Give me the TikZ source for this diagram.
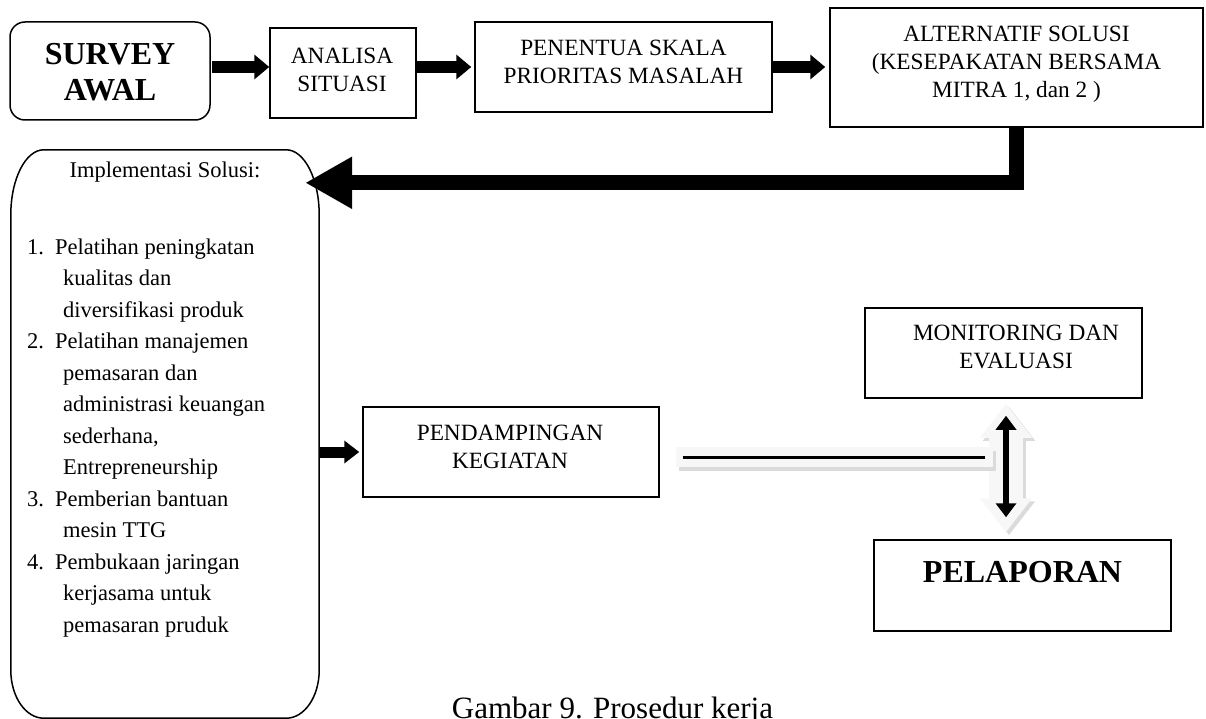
\documentclass[tikz,border=0pt]{standalone}
\usepackage{fontspec}
\setmainfont{Liberation Serif}
\usetikzlibrary{arrows.meta,calc}

\begin{document}
\begin{tikzpicture}[x=1pt,y=-1pt,
  box/.style={draw=black, line width=1.5pt, inner sep=0pt},
  txt/.style={inner sep=0pt, align=center, font=\fontsize{23.3}{28}\selectfont},
  bold/.style={inner sep=0pt, align=center, font=\fontsize{32}{36}\selectfont\bfseries},
  blk/.style={line width=12pt, -{Triangle[length=15pt,width=24pt]}},
  blksmall/.style={line width=11pt, -{Triangle[length=15pt,width=22pt]}},
  big/.style={line width=15pt, line join=miter, -{Triangle[length=47pt,width=49pt]}},
  graybar/.style={line width=20pt, draw=gray!6},
  grayshadow/.style={line width=20pt, draw=gray!28},
  grayarrow/.style={line width=34pt, draw=gray!6, {Triangle[length=34pt,width=50pt]}-{Triangle[length=34pt,width=50pt]}},
  grayarrowshadow/.style={line width=34pt, draw=gray!28, {Triangle[length=34pt,width=50pt]}-{Triangle[length=34pt,width=50pt]}},
  blackdouble/.style={line width=6pt, {Triangle[length=14pt,width=20pt]}-{Triangle[length=14pt,width=20pt]}},
]
\useasboundingbox (0,0) rectangle (1206,719);

% boxes
\node[box, rounded corners=15pt, minimum width=200pt, minimum height=98pt] (survey) at (110,71) {};
\node[box, minimum width=146pt, minimum height=90pt] (analisa) at (343,73) {};
\node[box, minimum width=297pt, minimum height=90pt] (penentu) at (623.5,67) {};
\node[box, minimum width=373pt, minimum height=119pt] (alt) at (1016.5,67.5) {};
\node[box, minimum width=277pt, minimum height=90pt] (mon) at (1003.5,353) {};
\node[box, minimum width=296pt, minimum height=90pt] (pend) at (511,452) {};
\node[box, minimum width=297pt, minimum height=91pt] (pel) at (1022.5,585.5) {};
\node[inner sep=0pt, minimum width=308pt, minimum height=568pt] (impl) at (165,434) {};

% implementasi outline with elliptic corners
\draw[line width=1.5pt]
  ($(impl.north west)+(0,65)$) .. controls ($(impl.north west)+(0,29.1)$) and ($(impl.north west)+(14.8,0)$) .. ($(impl.north west)+(33,0)$)
  -- ($(impl.north east)+(-33,0)$) .. controls ($(impl.north east)+(-14.8,0)$) and ($(impl.north east)+(0,29.1)$) .. ($(impl.north east)+(0,65)$)
  -- ($(impl.south east)+(0,-48)$) .. controls ($(impl.south east)+(0,-21.5)$) and ($(impl.south east)+(-14.8,0)$) .. ($(impl.south east)+(-33,0)$)
  -- ($(impl.south west)+(33,0)$) .. controls ($(impl.south west)+(14.8,0)$) and ($(impl.south west)+(0,-21.5)$) .. ($(impl.south west)+(0,-48)$)
  -- cycle;

% texts
\node[bold] (surveyT) at (110,72.4) {SURVEY\\AWAL};
\node[txt] (analisaT) at (342,70) {ANALISA\\SITUASI};
\node[txt] (penentuT) at (623.5,62) {PENENTUA SKALA\\PRIORITAS MASALAH};
\node[txt] (altT) at (1016.5,64.5) {ALTERNATIF SOLUSI\\(KESEPAKATAN BERSAMA\\MITRA 1, dan 2 )};
\node[txt] (monT) at (1016,347) {MONITORING DAN\\EVALUASI};
\node[txt] (pendT) at (510,446.5) {PENDAMPINGAN\\KEGIATAN};
\node[bold, anchor=base] (pelT) at (1022.5,582) {PELAPORAN};
\node[inner sep=0pt, anchor=base, font=\fontsize{22.5}{31.5}\selectfont] (implT) at (165,178) {Implementasi Solusi:};
\node[anchor=west, inner sep=0pt, align=left, font=\fontsize{22.5}{31.5}\selectfont] (items) at (27,437.8) {%
\makebox[28pt][l]{1.}Pelatihan peningkatan\\
\hspace*{36pt}kualitas dan\\
\hspace*{36pt}diversifikasi produk\\
\makebox[28pt][l]{2.}Pelatihan manajemen\\
\hspace*{36pt}pemasaran dan\\
\hspace*{36pt}administrasi keuangan\\
\hspace*{36pt}sederhana,\\
\hspace*{36pt}Entrepreneurship\\
\makebox[28pt][l]{3.}Pemberian bantuan\\
\hspace*{36pt}mesin TTG\\
\makebox[28pt][l]{4.}Pembukaan jaringan\\
\hspace*{36pt}kerjasama untuk\\
\hspace*{36pt}pemasaran pruduk};
\node[inner sep=0pt, anchor=base, font=\fontsize{31}{36}\selectfont] (caption) at (612.5,718) {Gambar 9. Prosedur kerja};

% block arrows
\draw[blk] ($(survey.east)+(1,-4)$) -- ($(analisa.west)+(0,-6)$);
\draw[blk] ($(analisa.east)+(0,-6)$) -- ($(penentu.west)+(-3,0)$);
\draw[blk] (penentu.east) -- ($(penentu.east -| alt.west)+(-4,0)$);

\coordinate (implin) at ($(impl.north east)+(-14,33)$);
\draw[big] (alt.south) |- (implin);

\draw[blksmall] (impl.east |- pend.west) -- ($(pend.west)+(-3,0)$);

% gray double arrow and bar
\coordinate (gx) at (1006,457);
\coordinate (gtop) at ($(gx |- mon.south)+(0,5)$);
\coordinate (gbot) at ($(gx |- pel.north)+(0,-7)$);
\coordinate (barL) at ($(pend.east |- gx)+(16,0)$);
\coordinate (barR) at ($(gx)+(-13,0)$);

\draw[grayarrowshadow, transform canvas={shift={(3pt,-3pt)}}] (gtop) -- (gbot);
\draw[grayarrow] (gtop) -- (gbot);
\draw[grayshadow, transform canvas={shift={(3pt,-4pt)}}] (barL) -- (barR);
\draw[graybar] (barL) -- (barR);
\draw[line width=3pt] ($(barL)+(7,0)$) -- ($(barR)+(-8,0)$);
\draw[blackdouble] ($(gtop)+(0,12)$) -- ($(gbot)+(0,-15)$);
\end{tikzpicture}
\end{document}
